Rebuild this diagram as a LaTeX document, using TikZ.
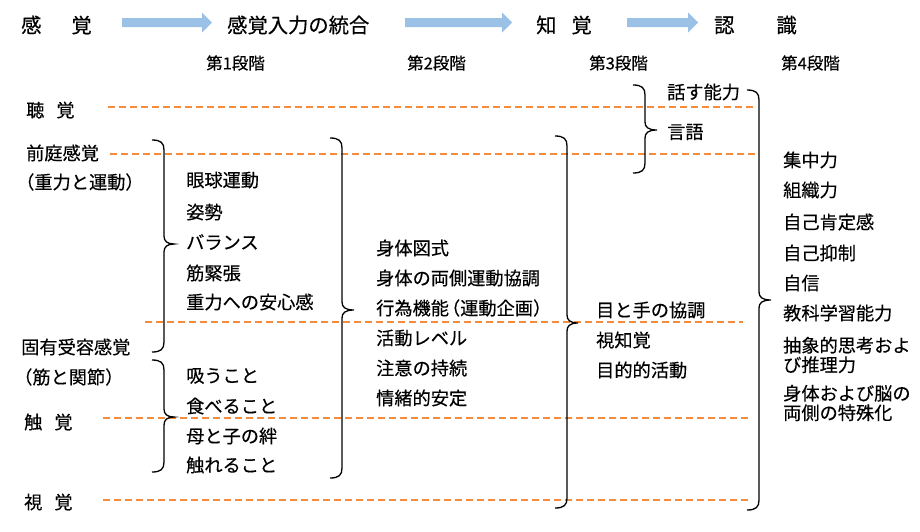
\documentclass[tikz,border=0pt]{standalone}
\usepackage{fontspec}
\setmainfont{Noto Sans CJK JP}[FakeBold=0.35]
\definecolor{sepor}{RGB}{244,140,60}
\definecolor{arrblue}{RGB}{155,194,230}
\newcommand{\rcbrace}[6]{% xl, xs, ytop, ytip, ybot, tip offset
  \draw[brc] (#1,#3) .. controls (#2-3,#3) and (#2,#3+3) .. (#2,#3+10)
    -- (#2,#4-8) .. controls (#2,#4-3) and (#2+3,#4) .. (#2+#6,#4)
    .. controls (#2+3,#4) and (#2,#4+3) .. (#2,#4+8)
    -- (#2,#5-10) .. controls (#2,#5-3) and (#2-3,#5) .. (#1,#5);}
\newcommand{\bluearrow}[3]{% xstart, xend, ycenter
  \fill[arr] (#1,#3-4.5) -- (#2-10,#3-4.5) -- (#2-10,#3-10) -- (#2,#3)
    -- (#2-10,#3+10) -- (#2-10,#3+4.5) -- (#1,#3+4.5) -- cycle;}
\begin{document}
\begin{tikzpicture}[x=1pt,y=-1pt,
  txt/.style={anchor=west,inner sep=0pt,font=\fontsize{18.2}{19}\selectfont},
  ttl/.style={anchor=west,inner sep=0pt,font=\fontsize{20.3}{24}\selectfont},
  stg/.style={anchor=west,inner sep=0pt,font=\fontsize{16.5}{20}\selectfont},
  multi/.style={txt,align=left,font=\fontsize{18.2}{19.5}\selectfont},
  sep/.style={draw=sepor,line width=1.4pt,dash pattern=on 7pt off 4pt},
  brc/.style={draw=black,line width=1.3pt},
  arr/.style={fill=arrblue,draw=none}]
\useasboundingbox (0,0) rectangle (920,531);

% title row
\node[ttl] (t1) at (21,25) {感\hspace{30pt}覚};
\node[ttl] (t2) at (227,25) {感覚入力の統合};
\node[ttl] (t3) at (536,25) {知\hspace{15pt}覚};
\node[ttl] (t4) at (714,25) {認\hspace{42pt}識};
\bluearrow{122}{212}{22.5}
\bluearrow{405}{512}{22.5}
\bluearrow{627}{698}{22.5}

% stages
\node[stg] (s1) at (206,63) {第1段階};
\node[stg] (s2) at (407,63) {第2段階};
\node[stg] (s3) at (589,63) {第3段階};
\node[stg] (s4) at (781,63) {第4段階};

% dashed separators
\coordinate (l1a) at (108,107); \coordinate (l1b) at (755,107);
\coordinate (l2a) at (110,154); \coordinate (l2b) at (755,154);
\coordinate (l3a) at (145,322); \coordinate (l3b) at (743,322);
\coordinate (l4a) at (103,418); \coordinate (l4b) at (748,418);
\coordinate (l5a) at (103,500); \coordinate (l5b) at (748,500);
\draw[sep] (l1a) -- (l1b);
\draw[sep] (l2a) -- (l2b);
\draw[sep] (l3a) -- (l3b);
\draw[sep] (l4a) -- (l4b);
\draw[sep] (l5a) -- (l5b);

% left labels
\node[txt] (a1) at (26,110) {聴\hspace{12pt}覚};
\node[txt] (a2) at (26,153) {前庭感覚};
\node[txt] (a3) at (16,182) {（重力と運動）};
\node[txt] (a4) at (21,347) {固有受容感覚};
\node[txt] (a5) at (14,377) {（筋と関節）};
\node[txt] (a6) at (24,422) {触\hspace{12pt}覚};
\node[txt] (a7) at (24,502) {視\hspace{12pt}覚};

% braces
\rcbrace{152}{164}{140}{244}{352}{10}
\rcbrace{152}{164}{360}{417}{472}{10}
\rcbrace{330}{342}{138}{310}{478}{12}
\rcbrace{555}{567}{136}{323}{508}{11}
\rcbrace{633}{645}{85}{130}{173}{12}
\rcbrace{747}{759}{90}{300}{510}{12}

% column 1
\node[txt] (b1) at (186,180) {眼球運動};
\node[txt] (b2) at (186,212) {姿勢};
\node[txt] (b3) at (186,242) {バランス};
\node[txt] (b4) at (186,273) {筋緊張};
\node[txt] (b5) at (186,302) {重力への安心感};
\node[txt] (b6) at (186,376) {吸うこと};
\node[txt] (b7) at (186,406) {食べること};
\node[txt] (b8) at (186,436) {母と子の絆};
\node[txt] (b9) at (186,465) {触れること};

% column 2
\node[txt] (c1) at (376,248) {身体図式};
\node[txt] (c2) at (376,278) {身体の両側運動協調};
\node[txt] (c3) at (376,308) {行為機能\kern-7pt（運動企画）};
\node[txt] (c4) at (376,338) {活動レベル};
\node[txt] (c5) at (376,368) {注意の持続};
\node[txt] (c6) at (376,398) {情緒的安定};

% column 3
\node[txt] (d1) at (596,310) {目と手の協調};
\node[txt] (d2) at (596,340) {視知覚};
\node[txt] (d3) at (596,370) {目的的活動};
\node[txt] (d4) at (667,92) {話す能力};
\node[txt] (d5) at (667,132) {言語};

% column 4
\node[txt] (e1) at (783,160) {集中力};
\node[txt] (e2) at (783,190) {組織力};
\node[txt] (e3) at (783,222) {自己肯定感};
\node[txt] (e4) at (783,253) {自己抑制};
\node[txt] (e5) at (783,283) {自信};
\node[txt] (e6) at (783,313) {教科学習能力};
\node[multi] (e7) at (783,355) {抽象的思考およ\\び推理力};
\node[multi] (e8) at (783,403) {身体および脳の\\両側の特殊化};
\end{tikzpicture}
\end{document}
